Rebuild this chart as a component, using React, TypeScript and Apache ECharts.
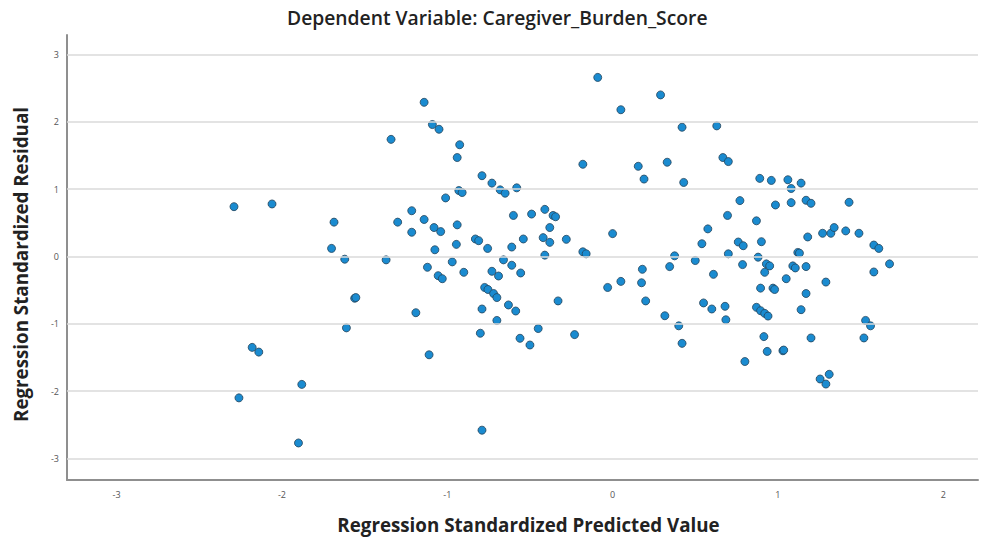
import React, { useEffect, useRef } from "react";
import * as echarts from "echarts";

const titleText = "Dependent Variable: Caregiver_Burden_Score";
const xAxisName = "Regression Standardized Predicted Value";
const yAxisName = "Regression Standardized Residual";

const xTicks = [-3, -2, -1, 0, 1, 2];
const yTicks = [-3, -2, -1, 0, 1, 2, 3];

// Regression standardized predicted values (x)
const predicted = [
  -2.29, -2.06, -1.685, -1.7, -1.62, -1.37, -1.34, -1.56, -1.553, -1.61,
  -2.18, -2.14, -1.88, -2.26, -1.9, -0.09, 0.29, 0.05, -1.14, -1.09,
  -1.05, -0.925, -0.94, -0.79, -0.73, -0.68, -0.65, -0.58, -0.93, -0.91,
  -1.01, -0.18, 0.155, 0.19, 0.33, -1.215, -1.3, -1.14, -1.215, -1.08,
  -1.04, -0.94, -1.075, -0.945, -0.83, -0.81, -0.756, -0.6, -0.49, -0.41,
  -0.36, -0.345, -0.38, -0.54, -0.42, -0.38, -0.28, -0.61, -0.41, -0.18,
  -0.16, 0.0, -0.97, -0.66, -1.12, -0.9, -1.055, -1.03, -0.61, -0.73,
  -0.69, -0.556, -0.774, -0.754, -0.72, -0.7, -0.79, -0.63, -0.586, -0.7,
  -1.19, -0.33, -0.8, -0.56, -0.5, -0.45, -0.23, -1.11, -0.79, -0.03,
  0.05, 0.18, 0.175, 0.2, 0.316, 0.345, 0.42, 0.63, 0.43, 0.667,
  0.7, 0.89, 0.96, 1.06, 1.08, 1.14, 0.77, 0.985, 1.08, 1.17,
  1.2, 1.43, 0.695, 0.87, 0.576, 0.54, 0.76, 0.79, 0.9, 1.18,
  1.27, 1.32, 1.34, 1.41, 1.49, 1.58, 1.61, 1.12, 1.13, 0.375,
  0.7, 0.88, 0.5, 0.61, 0.786, 0.93, 0.95, 0.92, 1.09, 1.105,
  1.17, 1.05, 1.29, 0.895, 0.97, 0.98, 1.17, 0.55, 0.6, 0.68,
  0.685, 0.4, 0.42, 0.87, 0.895, 0.92, 0.94, 1.14, 0.915, 1.2,
  0.935, 1.03, 1.035, 0.8, 1.255, 1.31, 1.29, 1.53, 1.56, 1.52,
  1.58, 1.675,
];

// Regression standardized residuals (y)
const residual = [
  0.74, 0.78, 0.51, 0.12, -0.04, -0.05, 1.74, -0.62, -0.61, -1.06,
  -1.35, -1.42, -1.9, -2.1, -2.77, 2.66, 2.4, 2.18, 2.29, 1.96,
  1.89, 1.66, 1.47, 1.2, 1.09, 0.99, 0.94, 1.02, 0.98, 0.95,
  0.87, 1.37, 1.34, 1.15, 1.4, 0.68, 0.51, 0.55, 0.36, 0.43,
  0.37, 0.47, 0.1, 0.18, 0.26, 0.235, 0.12, 0.61, 0.63, 0.7,
  0.61, 0.59, 0.43, 0.26, 0.28, 0.21, 0.255, 0.14, 0.02, 0.07,
  0.04, 0.34, -0.08, -0.05, -0.16, -0.235, -0.285, -0.33, -0.13, -0.22,
  -0.29, -0.245, -0.46, -0.49, -0.55, -0.61, -0.78, -0.72, -0.81, -0.95,
  -0.835, -0.66, -1.14, -1.215, -1.315, -1.07, -1.16, -1.46, -2.58, -0.46,
  -0.37, -0.19, -0.39, -0.66, -0.88, -0.15, 1.92, 1.94, 1.1, 1.47,
  1.41, 1.16, 1.13, 1.14, 1.01, 1.09, 0.83, 0.765, 0.8, 0.835,
  0.79, 0.805, 0.61, 0.53, 0.41, 0.19, 0.215, 0.16, 0.22, 0.29,
  0.345, 0.345, 0.43, 0.38, 0.345, 0.17, 0.12, 0.06, 0.05, 0.01,
  0.04, -0.01, -0.06, -0.265, -0.12, -0.11, -0.14, -0.235, -0.14, -0.17,
  -0.15, -0.33, -0.38, -0.47, -0.47, -0.49, -0.55, -0.69, -0.78, -0.74,
  -0.94, -1.03, -1.29, -0.755, -0.805, -0.845, -0.885, -0.79, -1.19, -1.21,
  -1.41, -1.4, -1.39, -1.56, -1.82, -1.75, -1.895, -0.95, -1.03, -1.21,
  -0.23, -0.11,
];

export default function App() {
  const ref = useRef<HTMLDivElement>(null);

  useEffect(() => {
    if (!ref.current) return;
    const chart = echarts.init(ref.current, undefined, { renderer: "svg" });
    const points = predicted.map((x, i) => [x, residual[i]]);
    const font = "'Open Sans', 'Noto Sans', sans-serif";

    chart.setOption({
      animation: false,
      backgroundColor: "#ffffff",
      title: {
        text: titleText,
        left: 287,
        top: 8,
        padding: 0,
        textStyle: {
          fontFamily: font,
          fontSize: 19.3,
          fontWeight: 600,
          color: "#222222",
        },
      },
      grid: { left: 67, right: 3, top: 35, bottom: 62, containLabel: false },
      xAxis: {
        type: "value",
        min: -3.3,
        max: 2.21,
        name: xAxisName,
        nameLocation: "middle",
        nameGap: 35,
        nameTextStyle: {
          fontFamily: font,
          fontSize: 18.75,
          fontWeight: "bold",
          color: "#222222",
          padding: [0, 0, 0, 12],
        },
        axisLine: {
          show: true,
          onZero: false,
          lineStyle: { color: "#8f8f8f", width: 2 },
        },
        axisTick: { show: false },
        splitLine: { show: false },
        axisLabel: {
          customValues: xTicks,
          fontFamily: font,
          fontSize: 9,
          color: "#555555",
          margin: 10,
        },
      },
      yAxis: {
        type: "value",
        min: -3.32,
        max: 3.29,
        name: yAxisName,
        nameLocation: "middle",
        nameGap: 37,
        nameTextStyle: {
          fontFamily: font,
          fontSize: 18.75,
          fontWeight: "bold",
          color: "#222222",
          padding: [0, 14, 0, 0],
        },
        axisLine: {
          show: true,
          onZero: false,
          lineStyle: { color: "#8f8f8f", width: 2 },
        },
        axisTick: { show: false },
        splitLine: { show: false },
        axisLabel: {
          customValues: yTicks,
          fontFamily: font,
          fontSize: 9,
          color: "#555555",
          margin: 8,
        },
      },
      series: [
        {
          type: "scatter",
          data: [],
          z: 1,
          silent: true,
          markLine: {
            silent: true,
            symbol: ["none", "none"],
            label: { show: false },
            lineStyle: { color: "#dadada", width: 1.6, type: "solid" },
            data: yTicks.map((v) => ({ yAxis: v })),
          },
        },
        {
          type: "scatter",
          z: 3,
          symbol: "circle",
          symbolSize: 8,
          data: points,
          itemStyle: {
            color: "#1a8bd0",
            borderColor: "#24445a",
            borderWidth: 0.8,
            opacity: 1,
          },
        },
      ],
    });

    return () => chart.dispose();
  }, []);

  return (
    <div
      ref={ref}
      style={{ position: "absolute", left: 0, top: 0, width: 981, height: 542 }}
    />
  );
}
